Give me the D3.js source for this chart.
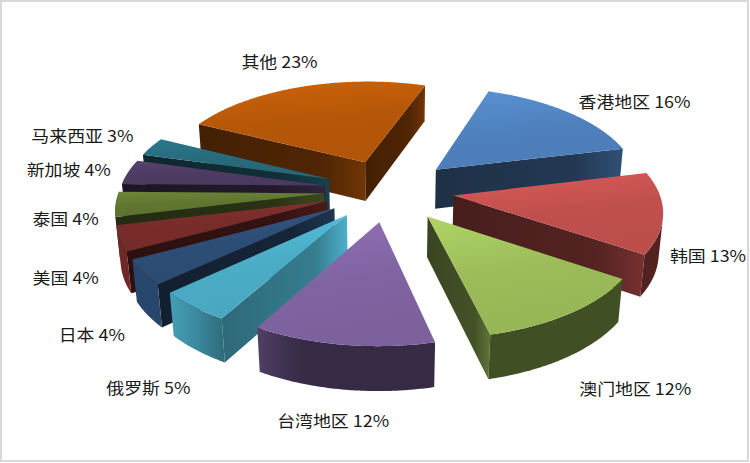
<!DOCTYPE html>
<html>
<head>
<meta charset="utf-8">
<script src="https://cdn.jsdelivr.net/npm/d3@7"></script>
<style>
  body { margin: 0; background: #fff; }
  svg { display: block; }
</style>
</head>
<body>
<div id="chart"></div>
<script>
// data
const regions = ["香港地区", "韩国", "澳门地区", "台湾地区", "俄罗斯", "日本", "美国", "泰国", "新加坡", "马来西亚", "其他"];
const shares = [16, 13, 12, 12, 5, 4, 4, 4, 4, 3, 23];

// office 2007 palette, one per slice, plus how light the cut walls come out
const colors = ["#4F81BD", "#C0504D", "#9BBB59", "#8064A2", "#4BACC6", "#2C4D75", "#772C2A", "#5F7530", "#4D3B62", "#276A7C", "#B65708"];
const sideTone = [1, 1, 1, 1, 1.65, 1.1, 1, 1, 1, 1, 1];

const width = 750, height = 463;

// 3d setup: pie lies flat, seen from above with some perspective
const cx = 389, cy = 190;
const R = 205, E = 65, H = 46;           // radius, explosion, thickness
const tilt = Math.asin(0.479);
const sinT = Math.sin(tilt), cosT = Math.cos(tilt);
const dist = 1550 * cosT;
const firstAngle = 19 * Math.PI / 180;

function project(x, y, z) {
  const v = y * sinT + z * cosT;
  const w = y * cosT - z * sinT;
  const s = dist / (dist + w);
  return [cx + x * s, cy - v * s, w];
}
const cam = [0, -dist * cosT, dist * sinT];
function facing(n, p) {
  return n[0] * (cam[0] - p[0]) + n[1] * (cam[1] - p[1]) + n[2] * (cam[2] - p[2]) > 0;
}

function shade(c, f) {
  const r = d3.rgb(c);
  return d3.rgb(r.r * f, r.g * f, r.b * f).formatHex();
}
// curved walls get lit when they face left, the rest stay dark
function wallF(nx) {
  const t = Math.min(1, Math.max(0, (-nx - 0.25) / 0.55));
  return 0.42 + 0.5 * t * t * (3 - 2 * t);
}

const svg = d3.select("#chart").append("svg")
    .attr("width", width)
    .attr("height", height);
const defs = svg.append("defs");

svg.append("rect")
    .attr("x", 1).attr("y", 1)
    .attr("width", 747).attr("height", 460)
    .attr("fill", "#fff")
    .attr("stroke", "#d9d9d9")
    .attr("stroke-width", 2);

const arcs = d3.pie().sort(null).value(d => d)
    .startAngle(firstAngle)
    .endAngle(firstAngle + 2 * Math.PI)(shares);

const slices = arcs.map((a, i) => {
  const mid = (a.startAngle + a.endAngle) / 2;
  const ox = E * Math.sin(mid), oy = E * Math.cos(mid);
  const pt = (th, r, z) => [ox + r * Math.sin(th), oy + r * Math.cos(th), z];
  const cen = pt(mid, R * 0.5, -H / 2);
  return {i, a0: a.startAngle, a1: a.endAngle, mid, ox, oy, pt, depth: project(...cen)[2]};
});

const xy = p => project(...p).slice(0, 2);
const path = pts => "M" + pts.map(p => {
  const q = xy(p);
  return q[0].toFixed(2) + "," + q[1].toFixed(2);
}).join("L") + "Z";

// gradients for the top faces
slices.forEach(s => {
  const gr = defs.append("linearGradient")
      .attr("id", "top" + s.i)
      .attr("x1", 0).attr("y1", 0).attr("x2", 0.25).attr("y2", 1);
  gr.append("stop").attr("offset", 0).attr("stop-color", d3.color(colors[s.i]).brighter(0.35).formatHex());
  gr.append("stop").attr("offset", 0.55).attr("stop-color", colors[s.i]);
  gr.append("stop").attr("offset", 1).attr("stop-color", d3.color(colors[s.i]).darker(0.08).formatHex());
});

// draw far slices first
const drawOrder = slices.slice().sort((p, q) => q.depth - p.depth);

drawOrder.forEach(s => {
  const g = svg.append("g");
  const base = colors[s.i];
  const tone = sideTone[s.i];

  // flat walls at both cut edges, lighter towards the right
  [[s.a0, [-Math.cos(s.a0), Math.sin(s.a0), 0], "a"],
   [s.a1, [Math.cos(s.a1), -Math.sin(s.a1), 0], "b"]].forEach(([th, n, k]) => {
    const quad = [s.pt(th, 0, 0), s.pt(th, R, 0), s.pt(th, R, -H), s.pt(th, 0, -H)];
    if (!facing(n, s.pt(th, R / 2, -H / 2))) return;
    const id = "side" + s.i + k;
    const gr = defs.append("linearGradient").attr("id", id)
        .attr("x1", 0).attr("y1", 0).attr("x2", 1).attr("y2", 0);
    gr.append("stop").attr("offset", 0).attr("stop-color", shade(base, 0.37 * tone));
    gr.append("stop").attr("offset", 0.75).attr("stop-color", shade(base, 0.44 * tone));
    gr.append("stop").attr("offset", 1).attr("stop-color", shade(base, 0.62 * tone));
    g.append("path")
        .attr("d", path(quad))
        .attr("fill", "url(#" + id + ")");
  });

  // curved outer wall, only the part that faces us
  const steps = Math.max(8, Math.ceil((s.a1 - s.a0) / (Math.PI / 360)));
  const vis = [];
  for (let j = 0; j <= steps; j++) {
    const t = s.a0 + (s.a1 - s.a0) * j / steps;
    const n = [Math.sin(t), Math.cos(t), 0];
    if (facing(n, s.pt(t, R, -H / 2))) vis.push(t);
  }
  if (vis.length > 1) {
    const topEdge = vis.map(t => s.pt(t, R, 0));
    const botEdge = vis.map(t => s.pt(t, R, -H)).reverse();
    const xs = vis.map(t => xy(s.pt(t, R, -H / 2))[0]);
    const xa = xs[0], xb = xs[xs.length - 1];
    const id = "wall" + s.i;
    const gr = defs.append("linearGradient").attr("id", id)
        .attr("gradientUnits", "userSpaceOnUse")
        .attr("x1", xa).attr("y1", 0).attr("x2", xb).attr("y2", 0);
    let last = 0;
    vis.forEach((t, j) => {
      if (j % 4 && j !== vis.length - 1) return;
      let off = Math.abs(xb - xa) < 1 ? j / (vis.length - 1) : (xs[j] - xa) / (xb - xa);
      off = Math.max(last, Math.min(1, off));
      last = off;
      gr.append("stop").attr("offset", off).attr("stop-color", shade(base, wallF(Math.sin(t))));
    });
    g.append("path")
        .attr("d", path(topEdge.concat(botEdge)))
        .attr("fill", "url(#" + id + ")");
  }

  // top face
  const top = [s.pt(s.a0, 0, 0)];
  const ts = Math.ceil((s.a1 - s.a0) / (Math.PI / 360));
  for (let j = 0; j <= ts; j++) top.push(s.pt(s.a0 + (s.a1 - s.a0) * j / ts, R, 0));
  g.append("path")
      .attr("d", path(top))
      .attr("fill", "url(#top" + s.i + ")");
});

// labels outside each slice: further out on the diagonals, lower in front
const stretch = 1.12;
slices.forEach(s => {
  const sn = Math.sin(s.mid), cs = Math.cos(s.mid);
  const diag = Math.abs(sn * cs);
  let pad, zDown;
  if (sn > 0) {
    pad = 4 + 160 * diag * diag + 15 * Math.max(0, -cs) * sn;
    zDown = 32 - 27 * cs + 10 * sn - 25 * cs * cs;
  } else {
    pad = 6 + 35 * diag + 8 * -sn;
    zDown = 20 - (cs > 0 ? 28 : 35) * cs + 15 * sn + 50 * Math.max(0, -cs) * -sn;
  }
  const p = project(...s.pt(s.mid, R + pad, -zDown));
  const t = svg.append("g");
  const txt = t.append("text")
      .attr("text-anchor", "middle")
      .attr("dy", "0.36em")
      .style("font-family", "'Noto Sans CJK SC', sans-serif")
      .style("font-size", "16px")
      .style("fill", "#1a1a1a")
      .text(regions[s.i] + " " + shares[s.i] + "%");
  const bb = txt.node().getBBox();
  const w = bb.width * stretch, h = bb.height * 0.8;
  t.attr("transform", `translate(${p[0] + sn * w / 2},${p[1] - cs * h / 2}) scale(${stretch},1)`);
});
</script>
</body>
</html>
